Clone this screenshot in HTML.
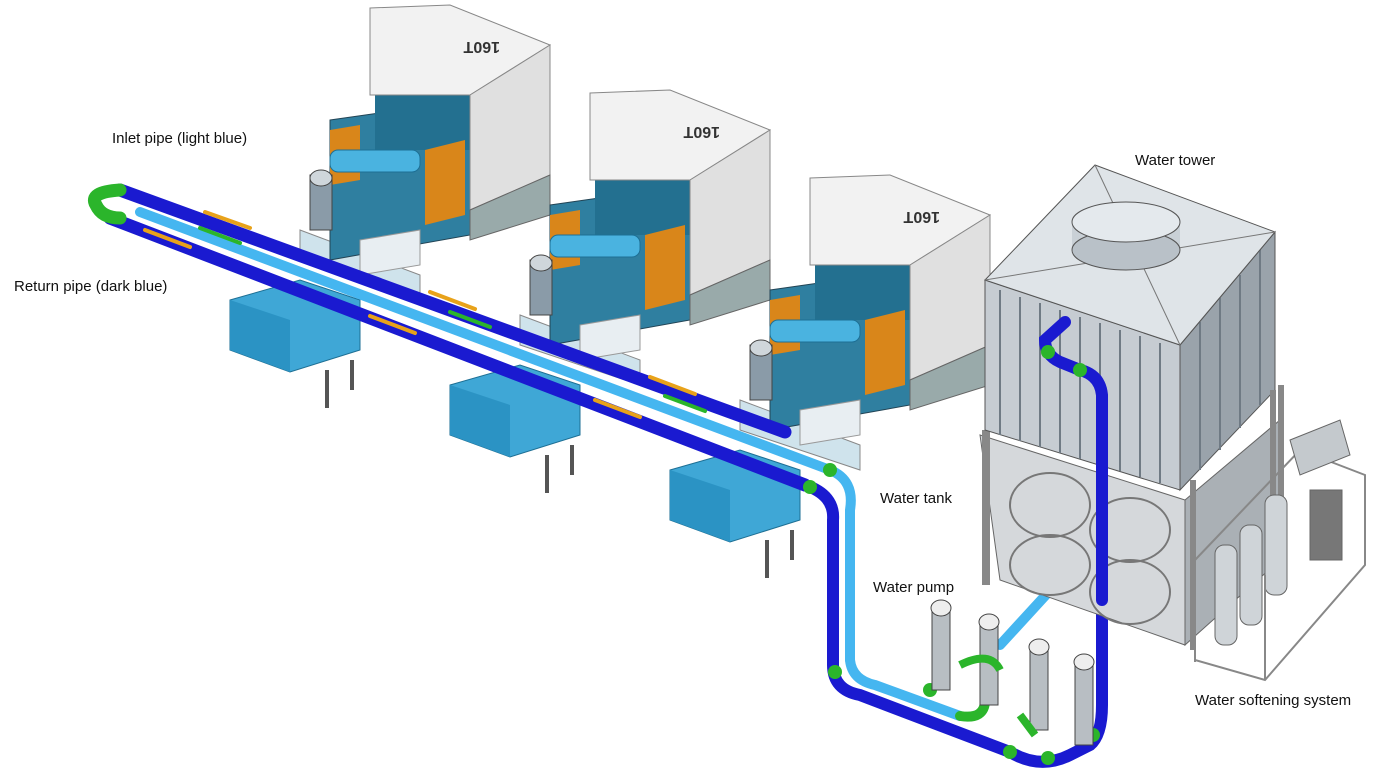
<!DOCTYPE html>
<html><head><meta charset="utf-8"><style>
html,body{margin:0;padding:0;background:#fff;}
svg{display:block;}
text{font-family:"Liberation Sans",sans-serif;font-size:15px;fill:#111;}
</style></head><body>
<svg width="1400" height="782" viewBox="0 0 1400 782" xmlns="http://www.w3.org/2000/svg">
<defs>
<g id="mach">
  <!-- base blue -->
  <polygon points="230,300 300,280 360,300 360,350 290,372 230,350" fill="#3fa7d6" stroke="#1d6f94" stroke-width="1"/>
  <polygon points="230,300 290,320 290,372 230,350" fill="#2b93c4"/>
  <polygon points="300,230 420,275 420,300 300,260" fill="#cfe3ec" stroke="#888"/>
  <rect x="325" y="370" width="4" height="38" fill="#555"/>
  <rect x="350" y="360" width="4" height="30" fill="#555"/>
  <!-- body teal -->
  <polygon points="330,120 470,100 470,235 330,260" fill="#2f7fa0" stroke="#245" stroke-width="1"/>
  <polygon points="375,95 470,95 470,150 375,150" fill="#237090"/>
  <polygon points="425,150 465,140 465,215 425,225" fill="#d9861a"/>
  <polygon points="330,130 360,125 360,180 330,185" fill="#d9861a"/>
  <!-- white top box -->
  <polygon points="370,8 450,5 550,45 470,95 370,95" fill="#f2f2f2" stroke="#888" stroke-width="1"/>
  <polygon points="470,95 550,45 550,175 470,210" fill="#e0e0e0" stroke="#888" stroke-width="1"/>
  <text x="0" y="0" transform="translate(500,42) rotate(180)" style="font-size:16px;font-weight:bold;fill:#333">160T</text>
  <!-- gray part -->
  <polygon points="470,210 550,175 550,215 470,240" fill="#9aa" stroke="#666"/>
  <!-- injection unit -->
  <rect x="330" y="150" width="90" height="22" rx="8" fill="#4ab3e0" stroke="#1d6f94"/>
  <rect x="310" y="175" width="22" height="55" fill="#8a9ba8" stroke="#444"/>
  <ellipse cx="321" cy="178" rx="11" ry="8" fill="#cfd6db" stroke="#444"/>
  <polygon points="360,240 420,230 420,265 360,275" fill="#e8eef2" stroke="#999"/>
</g>
</defs>
<rect width="1400" height="782" fill="#fff"/>
<use href="#mach"/>
<use href="#mach" transform="translate(220,85)"/>
<use href="#mach" transform="translate(440,170)"/>

<!-- pipes -->
<g fill="none" stroke-linecap="round">
  <path d="M120,190 L785,432" stroke="#1a1ad0" stroke-width="13"/>
  <path d="M140,212 L830,470" stroke="#45b6f0" stroke-width="10"/>
  <path d="M110,218 L805,485" stroke="#1a1ad0" stroke-width="13"/>
  <path d="M120,190 Q88,192 96,205 Q102,218 120,218" stroke="#2bb52b" stroke-width="13"/>
  <path d="M830,470 Q855,480 850,510 L850,660" stroke="#45b6f0" stroke-width="10"/>
  <path d="M805,485 Q835,495 833,520 L833,665 Q833,690 860,695 L1010,752 Q1040,770 1070,755 L1090,745 Q1102,735 1102,705 L1102,395 Q1100,375 1080,370 L1060,362 Q1045,355 1045,340 L1065,322" stroke="#1a1ad0" stroke-width="12"/>
  <path d="M850,660 Q852,680 875,685 L960,716" stroke="#45b6f0" stroke-width="10"/>
  <path d="M1000,645 L1055,585" stroke="#45b6f0" stroke-width="10"/>
  <path d="M960,716 Q985,720 985,700" stroke="#2bb52b" stroke-width="10"/>
</g>
<!-- green couplings -->
<g fill="#2bb52b">
  <circle cx="830" cy="470" r="7"/><circle cx="810" cy="487" r="7"/><circle cx="835" cy="672" r="7"/>
  <circle cx="1010" cy="752" r="7"/><circle cx="1048" cy="758" r="7"/><circle cx="1093" cy="735" r="7"/>
  <circle cx="1080" cy="370" r="7"/><circle cx="1048" cy="352" r="7"/><circle cx="930" cy="690" r="7"/>
</g>
<!-- orange/green arrows on pipes -->
<g stroke-width="4" stroke-linecap="round">
  <line x1="205" y1="212" x2="250" y2="228" stroke="#e8a21a"/>
  <line x1="145" y1="230" x2="190" y2="247" stroke="#e8a21a"/>
  <line x1="200" y1="228" x2="240" y2="243" stroke="#2bb52b"/>
  <line x1="430" y1="292" x2="475" y2="309" stroke="#e8a21a"/>
  <line x1="450" y1="312" x2="490" y2="327" stroke="#2bb52b"/>
  <line x1="370" y1="316" x2="415" y2="333" stroke="#e8a21a"/>
  <line x1="650" y1="377" x2="695" y2="394" stroke="#e8a21a"/>
  <line x1="665" y1="396" x2="705" y2="411" stroke="#2bb52b"/>
  <line x1="595" y1="400" x2="640" y2="417" stroke="#e8a21a"/>
</g>

<!-- water tank -->
<polygon points="980,435 1185,500 1185,645 1000,580" fill="#d5d8db" stroke="#666"/>
<polygon points="1185,500 1280,420 1280,560 1185,645" fill="#aab0b5" stroke="#666"/>
<g fill="none" stroke="#777" stroke-width="2">
  <ellipse cx="1050" cy="505" rx="40" ry="32"/><ellipse cx="1130" cy="530" rx="40" ry="32"/>
  <ellipse cx="1050" cy="565" rx="40" ry="30"/><ellipse cx="1130" cy="592" rx="40" ry="32"/>
</g>
<rect x="982" y="430" width="8" height="155" fill="#888"/>
<!-- tower body -->
<polygon points="985,280 1180,345 1180,490 985,430" fill="#c6ccd2" stroke="#555"/>
<polygon points="1180,345 1275,232 1275,390 1180,490" fill="#9aa3ab" stroke="#555"/>
<g stroke="#6f7a84" stroke-width="2">
  <line x1="1000" y1="290" x2="1000" y2="435"/><line x1="1020" y1="297" x2="1020" y2="441"/>
  <line x1="1040" y1="303" x2="1040" y2="447"/><line x1="1060" y1="310" x2="1060" y2="453"/>
  <line x1="1080" y1="317" x2="1080" y2="459"/><line x1="1100" y1="323" x2="1100" y2="465"/>
  <line x1="1120" y1="330" x2="1120" y2="471"/><line x1="1140" y1="336" x2="1140" y2="477"/>
  <line x1="1160" y1="343" x2="1160" y2="483"/>
  <line x1="1200" y1="322" x2="1200" y2="470"/><line x1="1220" y1="298" x2="1220" y2="450"/>
  <line x1="1240" y1="275" x2="1240" y2="428"/><line x1="1260" y1="250" x2="1260" y2="405"/>
</g>
<!-- roof -->
<polygon points="985,280 1095,165 1275,232 1180,345" fill="#dfe4e8" stroke="#555"/>
<line x1="1095" y1="165" x2="1180" y2="345" stroke="#777"/>
<line x1="985" y1="280" x2="1275" y2="232" stroke="#777"/>
<rect x="1072" y="222" width="108" height="28" fill="#c9d0d6"/>
<ellipse cx="1126" cy="250" rx="54" ry="20" fill="#b9c1c8" stroke="#555"/>
<ellipse cx="1126" cy="222" rx="54" ry="20" fill="#e4e9ed" stroke="#555"/>
<!-- redraw tower pipe over body -->
<path d="M1102,600 L1102,395 Q1100,375 1080,370 L1060,362 Q1045,355 1045,340 L1065,322" fill="none" stroke="#1a1ad0" stroke-width="12" stroke-linecap="round"/>
<circle cx="1080" cy="370" r="7" fill="#2bb52b"/><circle cx="1048" cy="352" r="7" fill="#2bb52b"/>
<!-- tower legs -->
<g fill="#888"><rect x="1190" y="480" width="6" height="170"/><rect x="1270" y="390" width="6" height="200"/><rect x="1278" y="385" width="6" height="160"/></g>

<!-- softening system -->
<polygon points="1195,560 1300,450 1365,475 1365,565 1265,680 1195,660" fill="none" stroke="#888" stroke-width="2"/>
<polygon points="1290,440 1340,420 1350,455 1300,475" fill="#c4c9cd" stroke="#666"/>
<g fill="#cfd4d8" stroke="#666">
  <rect x="1215" y="545" width="22" height="100" rx="9"/><rect x="1240" y="525" width="22" height="100" rx="9"/>
  <rect x="1265" y="495" width="22" height="100" rx="9"/><rect x="1310" y="490" width="32" height="70" fill="#777"/>
</g>
<g stroke="#888" stroke-width="2"><line x1="1195" y1="560" x2="1195" y2="662"/><line x1="1265" y1="575" x2="1265" y2="680"/><line x1="1365" y1="475" x2="1365" y2="565"/></g>

<!-- pumps -->
<g fill="#b8bec3" stroke="#444">
  <rect x="932" y="610" width="18" height="80"/><ellipse cx="941" cy="608" rx="10" ry="8" fill="#eee"/>
  <rect x="980" y="625" width="18" height="80"/><ellipse cx="989" cy="622" rx="10" ry="8" fill="#eee"/>
  <rect x="1030" y="650" width="18" height="80"/><ellipse cx="1039" cy="647" rx="10" ry="8" fill="#eee"/>
  <rect x="1075" y="665" width="18" height="80"/><ellipse cx="1084" cy="662" rx="10" ry="8" fill="#eee"/>
</g>
<path d="M960,665 Q990,650 1000,670" fill="none" stroke="#2bb52b" stroke-width="8"/>
<path d="M1020,715 L1035,735" fill="none" stroke="#2bb52b" stroke-width="8"/>

<!-- labels -->
<text x="112" y="143">Inlet pipe (light blue)</text>
<text x="14" y="291">Return pipe (dark blue)</text>
<text x="1135" y="165">Water tower</text>
<text x="880" y="503">Water tank</text>
<text x="873" y="592">Water pump</text>
<text x="1195" y="705">Water softening system</text>
</svg>
</body></html>
